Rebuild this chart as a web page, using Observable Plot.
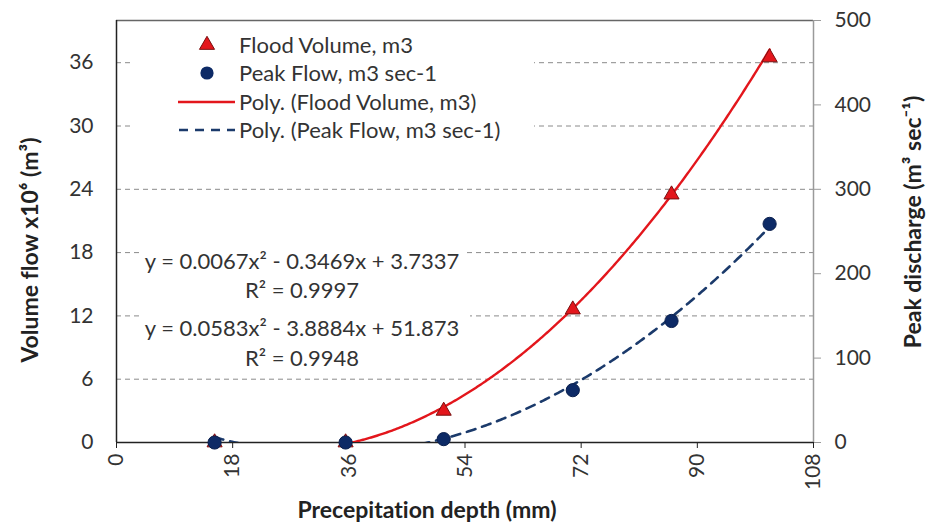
<!DOCTYPE html>
<html>
<head>
<meta charset="utf-8">
<script src="https://cdn.jsdelivr.net/npm/d3@7"></script>
<script src="https://cdn.jsdelivr.net/npm/@observablehq/plot@0.6"></script>
<style>
  html, body { margin: 0; padding: 0; background: #fff; }
  #chart svg { display: block; font-family: Lato, "Open Sans", sans-serif; font-variant-ligatures: none; }
</style>
</head>
<body>
<div id="chart"></div>
<script>
// ---- data ----
const precipitation = [15.2, 35.5, 50.7, 70.7, 86.0, 101.2];          // mm
const floodVolume   = [0, 0, 3.0, 12.6, 23.5, 36.5];                  // x10^6 m3 (left axis)
const peakFlow      = [0, 0, 4, 62, 144, 259];                        // m3/s (right axis)

// trendline coefficients as printed on the chart (a, b, c for a x^2 + b x + c)
const volumeFit = [0.0067, -0.3469, 3.7337];
const peakFit   = [0.0583, -3.8884, 51.873];

const xTicks     = [0, 18, 36, 54, 72, 90, 108];
const leftTicks  = [0, 6, 12, 18, 24, 30, 36];
const gridTicks  = [6, 12, 18, 24, 30, 36];
const rightTicks = [0, 100, 200, 300, 400, 500];

const legendLabels = [
  "Flood Volume, m3",
  "Peak Flow, m3 sec-1",
  "Poly. (Flood Volume, m3)",
  "Poly. (Peak Flow, m3 sec-1)"
];
const equationLines = [
  ["y = 0.0067x² - 0.3469x + 3.7337", "R² = 0.9997"],
  ["y = 0.0583x² - 3.8884x + 51.873", "R² = 0.9948"]
];

// ---- derived ----
const LEFT_MAX = 40, RIGHT_MAX = 500;
const k = LEFT_MAX / RIGHT_MAX;  // right-axis value -> left-axis units

const points = precipitation.map((x, i) => ({x, vol: floodVolume[i], peak: peakFlow[i] * k}));

const xMin = d3.min(precipitation), xMax = d3.max(precipitation);
const xs = d3.range(xMin, xMax + 0.001, 0.25);
const poly = (c, x) => c[0] * x * x + c[1] * x + c[2];
const volCurve  = xs.map(x => ({x, y: poly(volumeFit, x)}));
const peakCurve = xs.map(x => ({x, y: poly(peakFit, x) * k}));

const RED = "#e3161c", NAVY = "#0d2a66", DASHNAVY = "#1b3a6b";
const FS = 21;
const font = "Lato, 'Open Sans', sans-serif";

const plot = Plot.plot({
  width: 931,
  height: 524,
  marginLeft: 116,
  marginRight: 118,
  marginTop: 20,
  marginBottom: 82,
  style: {fontFamily: font, fontSize: FS + "px", color: "#333"},
  x: {domain: [0, 108]},
  y: {domain: [0, LEFT_MAX]},
  marks: [
    Plot.ruleY(gridTicks, {stroke: "#8a8a8a", strokeWidth: 1, strokeDasharray: "5,4"}),
    Plot.ruleY([LEFT_MAX], {stroke: "#666", strokeWidth: 1.5}),
    Plot.ruleX([108], {stroke: "#9a9a9a", strokeWidth: 1.5}),
    Plot.axisY({
      ticks: leftTicks, tickSize: 0, tickPadding: 23, label: null,
      fontSize: FS, fill: "#333"
    }),
    Plot.axisY({
      anchor: "right", ticks: rightTicks.map(v => v * k), tickSize: 7, tickPadding: 14,
      tickFormat: d => String(Math.round(d / k)), label: null,
      stroke: "#9a9a9a", fontSize: FS, fill: "#333"
    }),
    Plot.axisX({
      ticks: xTicks, tickSize: 6, tickPadding: 5, tickRotate: -90, label: null,
      stroke: "#222", fontSize: FS, fill: "#333"
    }),
    Plot.ruleX([0], {stroke: "#222", strokeWidth: 1.5}),
    Plot.ruleY([0], {stroke: "#222", strokeWidth: 1.5}),
    Plot.line(peakCurve, {x: "x", y: "y", stroke: DASHNAVY, strokeWidth: 2.6, strokeDasharray: "9,7", clip: true}),
    Plot.line(volCurve, {x: "x", y: "y", stroke: RED, strokeWidth: 2.4, clip: true}),
    Plot.dot(points, {x: "x", y: "vol", symbol: "triangle", r: 5.6, fill: RED, stroke: "#7a1010", strokeWidth: 1}),
    Plot.dot(points, {x: "x", y: "peak", r: 6.6, fill: NAVY, stroke: "#0a1f4d", strokeWidth: 1})
  ]
});

document.getElementById("chart").appendChild(plot);

// ---- overlays: legend, equations, axis titles ----
const svg = d3.select(plot);

// legend
const lg = svg.append("g").attr("font-family", font).attr("font-size", 22).attr("fill", "#333").attr("text-anchor", "start");
lg.append("rect").attr("x", 132).attr("y", 27).attr("width", 402).attr("height", 118).attr("fill", "#fff");
const rowY = [45, 73, 102, 130];
legendLabels.forEach((t, i) => {
  lg.append("text").attr("x", 239).attr("y", rowY[i]).attr("dy", "0.35em").text(t);
});
lg.append("path").attr("d", d3.symbol(d3.symbolTriangle, Math.PI * 5.6 * 5.6)())
  .attr("transform", `translate(207,${rowY[0]})`).attr("fill", RED).attr("stroke", "#7a1010");
lg.append("circle").attr("cx", 207).attr("cy", rowY[1]).attr("r", 6.6).attr("fill", NAVY);
lg.append("line").attr("x1", 178).attr("x2", 235).attr("y1", rowY[2]).attr("y2", rowY[2])
  .attr("stroke", RED).attr("stroke-width", 2.4);
lg.append("line").attr("x1", 179).attr("x2", 235).attr("y1", rowY[3]).attr("y2", rowY[3])
  .attr("stroke", DASHNAVY).attr("stroke-width", 2.6).attr("stroke-dasharray", "9,7");

// equations
const eq = svg.append("g").attr("font-family", font).attr("font-size", 22).attr("fill", "#333").attr("text-anchor", "middle");
eq.append("rect").attr("x", 140).attr("y", 244).attr("width", 323).attr("height", 60).attr("fill", "#fff");
eq.append("rect").attr("x", 140).attr("y", 308).attr("width", 330).attr("height", 64).attr("fill", "#fff");
const eqBase = [[269, 298], [336, 366]];
equationLines.forEach((lines, i) => {
  lines.forEach((t, j) => {
    eq.append("text").attr("x", 302).attr("y", eqBase[i][j]).text(t);
  });
});

// axis titles
const tg = svg.append("g").attr("font-family", font).attr("font-weight", "bold").attr("font-size", 23).attr("fill", "#222").attr("text-anchor", "middle");
tg.append("text").attr("transform", "translate(38,250) rotate(-90)").text("Volume flow x10⁶ (m³)");
tg.append("text").attr("transform", "translate(921,222) rotate(-90)").text("Peak discharge (m³ sec⁻¹)");
tg.append("text").attr("x", 427).attr("y", 518).text("Precepitation depth (mm)");
</script>
</body>
</html>
